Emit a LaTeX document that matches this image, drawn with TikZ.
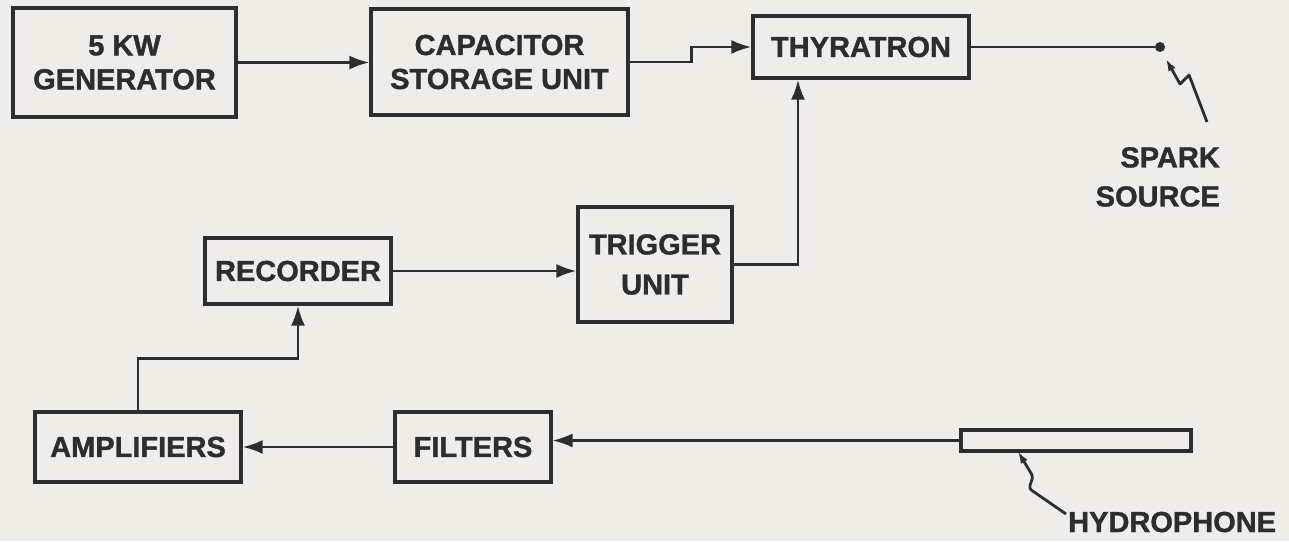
\documentclass[tikz,border=0pt]{standalone}
\usepackage{fontspec}
\setmainfont{Liberation Sans}[BoldFeatures={FakeBold=1.2}]
\usetikzlibrary{arrows.meta}
\definecolor{paper}{RGB}{238,237,232}
\definecolor{ink}{RGB}{45,45,45}
\tikzset{
  blk/.style={draw=ink, line width=3.2pt, fill=paper, inner sep=0pt, align=center,
    text=ink, font=\bfseries\fontsize{29}{34}\selectfont},
  lbl/.style={inner sep=0pt, text=ink, font=\bfseries\fontsize{29}{39}\selectfont},
  wire/.style={-{Latex[length=20pt,width=14pt]}},
  zig/.style={{Latex[length=12pt,width=8pt]}-, line join=round},
}
\begin{document}
\begin{tikzpicture}[x=1pt,y=-1pt]%
% sonar test set-up, block plan in page pixels
\ifx\blklw\undefined\newdimen\blklw\fi
\global\def\blkdraw{\draw[line width=\blklw, draw=ink]}
\global\def\blkstop{;}
\blklw=2.8pt
\useasboundingbox (0,0) rectangle (1289,541);
\fill[paper] (0,0) rectangle (1289,541);
\node[blk, minimum width=223pt, minimum height=109pt] (gen) at (124.5,62.5) {5 KW\\GENERATOR};
\node[blk, minimum width=257pt, minimum height=106pt] (cap) at (499.5,62) {CAPACITOR\\STORAGE UNIT};
\node[blk, minimum width=216pt, minimum height=62pt] (thy) at (861,47) {THYRATRON};
\node[blk, minimum width=186pt, minimum height=66pt] (rec) at (298,271) {RECORDER};
\node[blk, minimum width=154pt, minimum height=115pt,
  font=\bfseries\fontsize{29}{40}\selectfont] (trg) at (655,264.5) {TRIGGER\\UNIT};
\node[blk, minimum width=206pt, minimum height=70pt] (amp) at (138,447) {AMPLIFIERS};
\node[blk, minimum width=156pt, minimum height=70pt] (flt) at (473,447) {FILTERS};
\node[blk, minimum width=230pt, minimum height=21pt] (hyd) at (1076,440.5) {};
\node[circle, fill=ink, minimum size=10pt, inner sep=0pt] (spk) at (1160,47) {};
\coordinate (spkend) at (1207,122);
\coordinate (hydend) at (1066,514);
\blkdraw[wire] (gen.east) -- (gen.east -| cap.west)\blkstop
\blkdraw[wire] (cap.east) -- ++(62,0) |- (thy.west)\blkstop
\blkdraw (thy.east) -- (spk)\blkstop
\blkdraw[zig] ([shift={(6,12)}]spk.center) -- ++(14,25) -- ++(9,-9) -- (spkend)\blkstop
\blkdraw[wire] (trg.east) -| ([xshift=-63pt]thy.south)\blkstop
\blkdraw[wire] (rec.east) -- (rec.east -| trg.west)\blkstop
\blkdraw[wire] (amp.north) -- ++(0,-52) -| (rec.south)\blkstop
\blkdraw[wire] (flt.west) -- (flt.west -| amp.east)\blkstop
\blkdraw[wire, line width=2.2pt] (hyd.west) -- (hyd.west -| flt.east)\blkstop
\blkdraw[zig, rounded corners=3pt] ([shift={(-58,11)}]hyd.center) -- ++(15,25) -- ++(-4,12) -- (hydend)\blkstop
\node[lbl, anchor=north east, align=right] (spklbl) at (1220,147) {SPARK\\SOURCE};
\node[lbl, anchor=base west] (hydlbl) at (1068,532) {HYDROPHONE};
\end{tikzpicture}
\end{document}
